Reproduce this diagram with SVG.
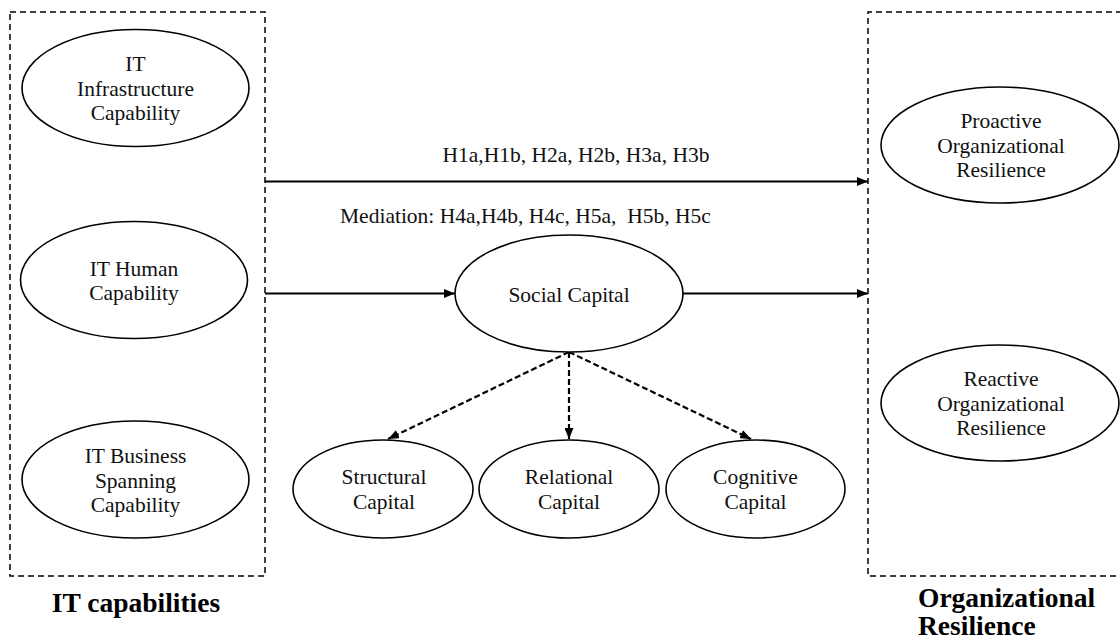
<svg xmlns="http://www.w3.org/2000/svg" width="1120" height="641" viewBox="0 0 1120 641">
<style>
.box{fill:none;stroke:#000;stroke-width:1.5;stroke-dasharray:6 4}
ellipse{fill:#fff;stroke:#000;stroke-width:1.6}
.lbl{font-family:'Liberation Serif','Times New Roman',Times,'DejaVu Serif',serif;font-size:21.5px;text-anchor:middle;fill:#111}
.title{font-family:'Liberation Serif','Times New Roman',Times,'DejaVu Serif',serif;font-size:27.5px;font-weight:bold;fill:#000}
.solid{fill:none;stroke:#000;stroke-width:2.2;marker-end:url(#ah)}
.dash{fill:none;stroke:#000;stroke-width:2.2;stroke-dasharray:6 3;marker-end:url(#ah)}
</style>
<defs>
<marker id="ah" markerUnits="userSpaceOnUse" markerWidth="11" markerHeight="9" viewBox="0 0 11 9" refX="11" refY="4.5" orient="auto">
<path d="M0,0 L11,4.5 L0,9 z" fill="#000"/>
</marker>
</defs>
<rect width="1120" height="641" fill="#fff"/>

<g id="it-capabilities-group">
<rect class="box" x="10" y="12" width="255" height="564"/>
<text class="title" x="136" y="612" text-anchor="middle" font-family="Liberation Serif, serif">IT capabilities</text>
</g>
<g id="org-resilience-group">
<path class="box" d="M1122,12 H868 V576 H1122"/>
<text class="title" x="918" y="607" font-family="Liberation Serif, serif">Organizational</text>
<text class="title" x="918" y="635" font-family="Liberation Serif, serif">Resilience</text>
</g>

<g id="connectors">
<line class="solid" x1="265" y1="181.5" x2="868" y2="181.5"/>
<line class="solid" x1="265" y1="293.5" x2="455" y2="293.5"/>
<line class="solid" x1="683" y1="293.5" x2="868" y2="293.5"/>
<line class="dash" x1="569" y1="352" x2="388" y2="439"/>
<line class="dash" x1="569" y1="352" x2="569" y2="439"/>
<line class="dash" x1="569" y1="352" x2="751" y2="439"/>
<text class="lbl" x="576" y="162">H1a,H1b, H2a, H2b, H3a, H3b</text>
<text class="lbl" x="340" y="223" style="text-anchor:start" xml:space="preserve">Mediation: H4a,H4b, H4c, H5a,  H5b, H5c</text>
</g>

<g id="it-infrastructure">
<ellipse cx="135.5" cy="88" rx="113.5" ry="58.5"/>
<text class="lbl" x="135.5" y="71">IT</text>
<text class="lbl" x="135.5" y="96">Infrastructure</text>
<text class="lbl" x="135.5" y="120">Capability</text>
</g>
<g id="it-human">
<ellipse cx="134" cy="280" rx="113.5" ry="58.5"/>
<text class="lbl" x="134" y="276">IT Human</text>
<text class="lbl" x="134" y="300">Capability</text>
</g>
<g id="it-business-spanning">
<ellipse cx="135.5" cy="479.5" rx="113.5" ry="58.5"/>
<text class="lbl" x="135.5" y="463">IT Business</text>
<text class="lbl" x="135.5" y="488">Spanning</text>
<text class="lbl" x="135.5" y="512">Capability</text>
</g>
<g id="social-capital">
<ellipse cx="569" cy="293.5" rx="114" ry="58.5"/>
<text class="lbl" x="569" y="302">Social Capital</text>
</g>
<g id="structural-capital">
<ellipse cx="383" cy="489" rx="90" ry="49"/>
<text class="lbl" x="384" y="484">Structural</text>
<text class="lbl" x="384" y="509">Capital</text>
</g>
<g id="relational-capital">
<ellipse cx="569" cy="489" rx="90" ry="49"/>
<text class="lbl" x="569" y="484">Relational</text>
<text class="lbl" x="569" y="509">Capital</text>
</g>
<g id="cognitive-capital">
<ellipse cx="755.5" cy="489" rx="89.5" ry="49"/>
<text class="lbl" x="755.5" y="484">Cognitive</text>
<text class="lbl" x="755.5" y="509">Capital</text>
</g>
<g id="proactive-resilience">
<ellipse cx="1000" cy="145" rx="119" ry="58"/>
<text class="lbl" x="1001" y="128">Proactive</text>
<text class="lbl" x="1001" y="153">Organizational</text>
<text class="lbl" x="1001" y="177">Resilience</text>
</g>
<g id="reactive-resilience">
<ellipse cx="1000" cy="403" rx="119" ry="58"/>
<text class="lbl" x="1001" y="386">Reactive</text>
<text class="lbl" x="1001" y="411">Organizational</text>
<text class="lbl" x="1001" y="435">Resilience</text>
</g>
</svg>
